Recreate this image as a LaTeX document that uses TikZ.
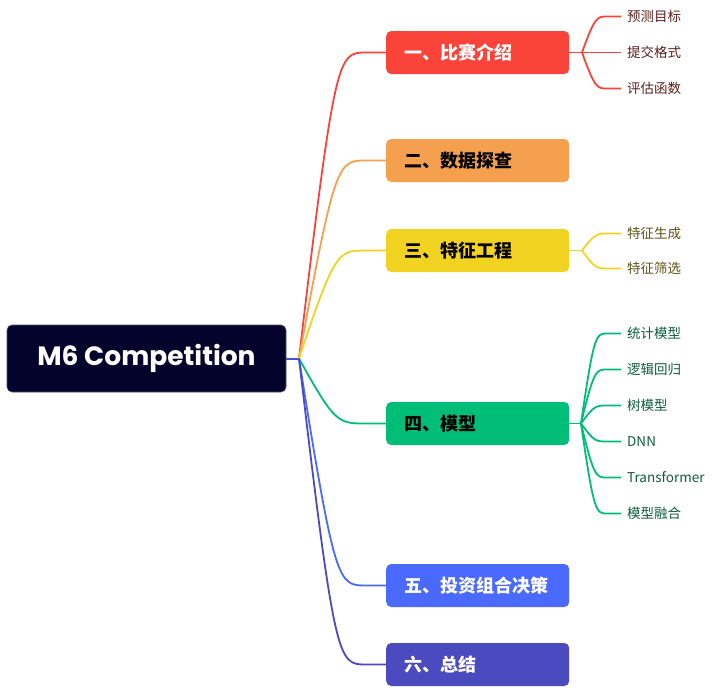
\documentclass[tikz,border=0pt]{standalone}
\usepackage{fontspec}
\setmainfont{Noto Sans CJK SC}
\newfontfamily\rootfont{Poppins}
\definecolor{navy}{HTML}{03032B}
\definecolor{cred}{HTML}{FA443A}
\definecolor{corange}{HTML}{F5A04E}
\definecolor{cyellow}{HTML}{F2D322}
\definecolor{cgreen}{HTML}{00BE78}
\definecolor{cblue}{HTML}{4A6AFF}
\definecolor{cpurple}{HTML}{4B4ABF}
\definecolor{tred}{HTML}{5C1F1F}
\definecolor{tyellow}{HTML}{5E5214}
\definecolor{tgreen}{HTML}{0E5A3C}
\definecolor{hubline}{HTML}{4650CC}
\begin{document}
\begin{tikzpicture}[x=1pt,y=-1pt,
  rootbox/.style={fill=navy, draw=navy!70!white, line width=0.6pt, rounded corners=5pt, minimum width=279pt, minimum height=67pt, inner sep=0pt, text=white, font=\rootfont\bfseries\fontsize{26.5}{26.5}\selectfont},
  box/.style={rounded corners=5pt, minimum height=43pt, text width=147pt, inner xsep=18pt, inner ysep=0pt, align=left, anchor=west, font=\bfseries\fontsize{18}{18}\selectfont},
  leaf/.style={anchor=west, inner sep=0pt, font=\fontsize{13.5}{14}\selectfont},
  conn/.style={line width=1.8pt},
  subconn/.style={line width=1.8pt}
]
\useasboundingbox (0,0) rectangle (715,694);

\node[rootbox] (root) at (146.5,358.5) {M6 Competition};
\coordinate (hub) at (299,358.5);
\draw[line width=2pt, hubline] (root.east) -- (hub);

\node[box, fill=cred, text=white] (b1) at (386,52.5) {一、比赛介绍};
\node[box, fill=corange, text=black] (b2) at (386,160.5) {二、数据探查};
\node[box, fill=cyellow, text=black] (b3) at (386,250.5) {三、特征工程};
\node[box, fill=cgreen, text=black] (b4) at (386,423.5) {四、模型};
\node[box, fill=cblue, text=white] (b5) at (386,585.5) {五、投资组合决策};
\node[box, fill=cpurple, text=white] (b6) at (386,664.5) {六、总结};

\foreach \b/\c in {b1/cred,b2/corange,b3/cyellow,b4/cgreen,b5/cblue,b6/cpurple}{
  \draw[conn, \c] (hub) .. controls ([xshift=36pt]hub |- \b.west) and ([xshift=39pt]hub |- \b.west) .. ([xshift=-20pt]\b.west) -- (\b.west);
}

% sub hubs
\coordinate (h1) at (582,52.5);
\coordinate (h3) at (582,250.5);
\coordinate (h4) at (581,423.5);
\draw[subconn, cred] (b1.east) -- (h1);
\draw[subconn, cyellow] (b3.east) -- (h3);
\draw[subconn, cgreen] (b4.east) -- (h4);

% red leaves
\node[leaf, text=tred] (l11) at (627,16.5) {预测目标};
\node[leaf, text=tred] (l12) at (627,52.5) {提交格式};
\node[leaf, text=tred] (l13) at (627,88.5) {评估函数};
% yellow leaves
\node[leaf, text=tyellow] (l31) at (627,233.5) {特征生成};
\node[leaf, text=tyellow] (l32) at (627,268.5) {特征筛选};
% green leaves
\node[leaf, text=tgreen] (l41) at (627,333.5) {统计模型};
\node[leaf, text=tgreen] (l42) at (627,369.5) {逻辑回归};
\node[leaf, text=tgreen] (l43) at (627,405.5) {树模型};
\node[leaf, text=tgreen] (l44) at (627,441.5) {DNN};
\node[leaf, text=tgreen] (l45) at (627,477.5) {Transformer};
\node[leaf, text=tgreen] (l46) at (627,513.5) {模型融合};

\foreach \h/\n/\c in {h1/l11/cred,h1/l12/cred,h1/l13/cred,h3/l31/cyellow,h3/l32/cyellow,h4/l41/cgreen,h4/l42/cgreen,h4/l43/cgreen,h4/l44/cgreen,h4/l45/cgreen,h4/l46/cgreen}{
  \draw[subconn, \c] (\h) .. controls ([xshift=13pt]\h |- \n.west) and ([xshift=15pt]\h |- \n.west) .. ([xshift=-20pt]\n.west) -- ([xshift=-6pt]\n.west);
}
\end{tikzpicture}
\end{document}
